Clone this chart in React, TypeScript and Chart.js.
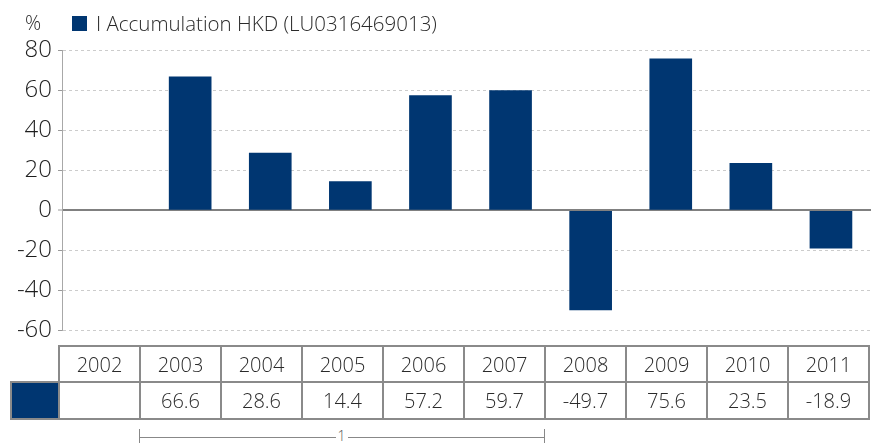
import React, { useEffect, useRef } from "react";
import { Chart, registerables } from "chart.js";

Chart.register(...registerables);

const categories = ["2002", "2003", "2004", "2005", "2006", "2007", "2008", "2009", "2010", "2011"];
const seriesName = "I Accumulation HKD (LU0316469013)";
const values: (number | null)[] = [null, 66.6, 28.6, 14.4, 57.2, 59.7, -49.7, 75.6, 23.5, -18.9];
const valueLabels = ["", "66.6", "28.6", "14.4", "57.2", "59.7", "-49.7", "75.6", "23.5", "-18.9"];
const bracketLabel = "1";
const bracketFrom = 1;
const bracketTo = 5;

const NAVY = "#003671";
const FONT = "'Open Sans', 'Liberation Sans', Arial, sans-serif";
const TXT = "#2a2a2a";

const TABLE_LEFT = 58;
const COL_W = 81;
const SWATCH_W = 48;

export default function App() {
  const canvasRef = useRef<HTMLCanvasElement | null>(null);

  useEffect(() => {
    if (!canvasRef.current) return;
    const chart = new Chart(canvasRef.current, {
      type: "bar",
      data: {
        datasets: [
          {
            label: seriesName,
            data: values.map((v, i) => ({ x: i, y: v })) as any,
            backgroundColor: NAVY,
            borderWidth: 0,
            barThickness: 42,
          },
        ],
      },
      options: {
        animation: false,
        responsive: false,
        layout: { padding: { top: 50, bottom: 11, left: 0, right: 0 } },
        plugins: { legend: { display: false }, tooltip: { enabled: false } },
        scales: {
          x: {
            type: "linear",
            min: -0.6,
            max: 9.5,
            offset: false,
            display: false,
            grid: { offset: false },
          },
          y: {
            min: -60,
            max: 80,
            afterFit: (s: any) => {
              s.width = 62;
            },
            ticks: {
              stepSize: 20,
              padding: 6,
              color: "#1e1e1e",
              font: { family: FONT, size: 24, weight: 300 as any },
            },
            grid: {
              color: (c: any) => (c.tick && c.tick.value === 0 ? "#808080" : "#cccccc"),
              lineWidth: (c: any) => (c.tick && c.tick.value === 0 ? 2 : 1),
              tickLength: 4,
              tickColor: "#9a9a9a",
              tickWidth: 1,
            },
            border: {
              display: true,
              color: "#a8a8a8",
              width: 1,
              dash: (c: any) => (c.type === "tick" && c.tick && c.tick.value !== 0 ? [3, 3] : []),
            } as any,
          },
        },
      },
    });
    return () => chart.destroy();
  }, []);

  const cellBase: React.CSSProperties = {
    border: "2px solid #8a8a8a",
    textAlign: "center",
    fontFamily: FONT,
    fontWeight: 300,
    fontSize: 20,
    color: TXT,
    padding: 0,
    width: COL_W - 2,
  };

  const bx1 = TABLE_LEFT + bracketFrom * COL_W;
  const bx2 = TABLE_LEFT + (bracketTo + 1) * COL_W;

  return (
    <div style={{ position: "absolute", left: 0, top: 0, width: 871, height: 443, background: "#fff", overflow: "hidden" }}>
      <canvas ref={canvasRef} width={871} height={351} style={{ position: "absolute", left: 0, top: 0 }} />
      <div style={{ position: "absolute", left: 25, top: 9, fontFamily: FONT, fontWeight: 300, fontSize: 20, color: TXT }}>%</div>
      <div style={{ position: "absolute", left: 72, top: 16, width: 15, height: 15, background: NAVY }} />
      <div style={{ position: "absolute", left: 96, top: 9, fontFamily: FONT, fontWeight: 300, fontSize: 20.5, color: TXT, whiteSpace: "nowrap" }}>
        {seriesName}
      </div>
      <table
        style={{
          position: "absolute",
          left: TABLE_LEFT - SWATCH_W,
          top: 345,
          borderCollapse: "collapse",
          tableLayout: "fixed",
        }}
      >
        <tbody>
          <tr style={{ height: 36 }}>
            <td style={{ width: SWATCH_W - 2, border: "none", padding: 0 }} />
            {categories.map((c) => (
              <td key={c} style={cellBase}>
                {c}
              </td>
            ))}
          </tr>
          <tr style={{ height: 37 }}>
            <td style={{ width: SWATCH_W - 2, border: "2px solid #8a8a8a", background: NAVY, padding: 0 }} />
            {valueLabels.map((v, i) => (
              <td key={categories[i]} style={cellBase}>
                {v}
              </td>
            ))}
          </tr>
        </tbody>
      </table>
      <div style={{ position: "absolute", left: bx1, top: 429, width: 1, height: 14, background: "#888" }} />
      <div style={{ position: "absolute", left: bx2, top: 429, width: 1, height: 14, background: "#888" }} />
      <div style={{ position: "absolute", left: bx1, top: 437, width: bx2 - bx1, height: 1, background: "#888" }} />
      <div
        style={{
          position: "absolute",
          left: (bx1 + bx2) / 2 - 6,
          top: 428,
          width: 12,
          textAlign: "center",
          background: "#fff",
          fontFamily: FONT,
          fontWeight: 300,
          fontSize: 14,
          lineHeight: "16px",
          color: "#555",
        }}
      >
        {bracketLabel}
      </div>
    </div>
  );
}
